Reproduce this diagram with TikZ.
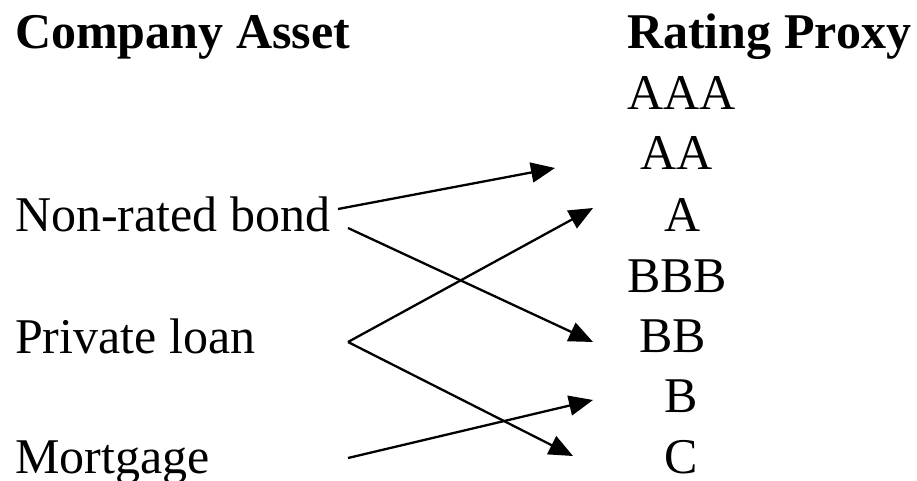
\documentclass[tikz,border=0pt]{standalone}
\usepackage{fontspec}
\setmainfont{Liberation Serif}
\usetikzlibrary{arrows.meta}
\begin{document}
\begin{tikzpicture}[x=1pt,y=-1pt,
  lbl/.style={anchor=base west,inner sep=0pt,font=\fontsize{50}{60}\selectfont},
  head/.style={lbl,font=\fontsize{50}{60}\selectfont\bfseries},
  conn/.style={line width=2.3pt,-{Triangle[length=24pt,width=20pt]}}]
\useasboundingbox (0,0) rectangle (917,481);
\node[head] (ca) at (15,49) {Company Asset};
\node[head] (rp) at (627,49) {Rating Proxy};
\node[lbl] (aaa) at (627,110) {AAA};
\node[lbl] (aa) at (640,170) {AA};
\node[lbl] (a) at (664,231) {A};
\node[lbl] (bbb) at (627,292) {BBB};
\node[lbl] (bb) at (639,352) {BB};
\node[lbl] (b) at (664,412) {B};
\node[lbl] (c) at (664,473) {C};
\node[lbl] (nrb) at (15,231) {Non-rated bond};
\node[lbl] (pl) at (15,353) {Private loan};
\node[lbl] (mo) at (15,473) {Mortgage};
\coordinate (s1) at (338,209);
\coordinate (s2) at (348,228);
\coordinate (s3) at (348,342);
\coordinate (s5) at (348,458);
\coordinate (e1) at (555,168);
\coordinate (e2) at (593,342);
\coordinate (e3) at (593,208);
\coordinate (e4) at (573,456);
\coordinate (e5) at (593,400);
\draw[conn] (s1) -- (e1);
\draw[conn] (s2) -- (e2);
\draw[conn] (s3) -- (e3);
\draw[conn] (s3) -- (e4);
\draw[conn] (s5) -- (e5);
\end{tikzpicture}
\end{document}
